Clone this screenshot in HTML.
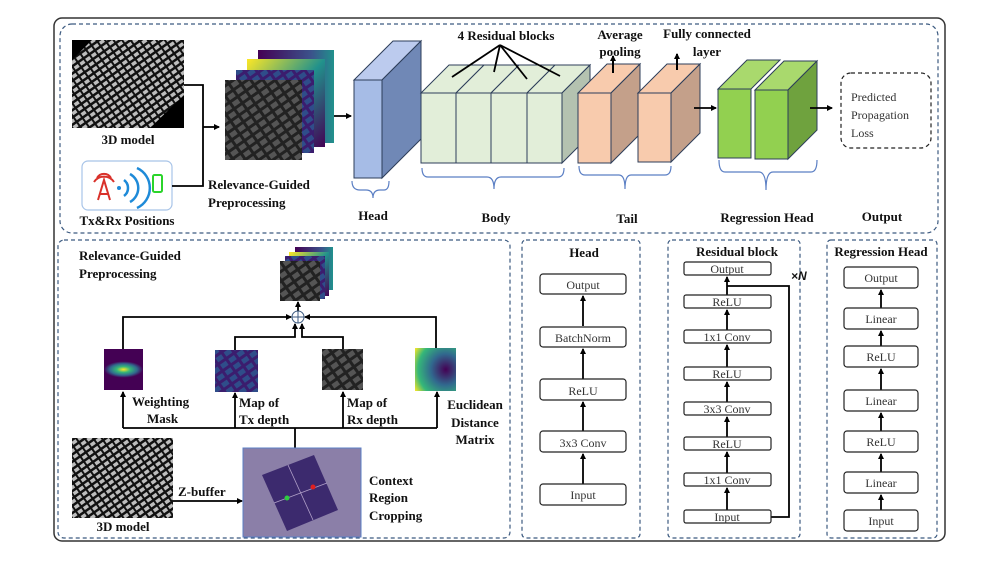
<!DOCTYPE html>
<html><head><meta charset="utf-8"><style>
html,body{margin:0;padding:0;background:#fff;}
svg{display:block;font-family:"Liberation Serif",serif;}
.b{font-weight:bold;font-size:13px;fill:#111;}
.n{font-size:12px;fill:#333;}
.bx{fill:#fff;stroke:#222;stroke-width:1.2;}
</style></head><body>
<svg width="996" height="561" viewBox="0 0 996 561" xmlns="http://www.w3.org/2000/svg">
<defs>
<marker id="ar" markerWidth="6" markerHeight="6" refX="5" refY="3" orient="auto" markerUnits="userSpaceOnUse"><path d="M0,0 L6,3 L0,6 z" fill="#000"/></marker>
<pattern id="city" width="7" height="6" patternUnits="userSpaceOnUse" patternTransform="rotate(-35)">
<rect width="7" height="6" fill="#111"/><rect x="1" y="1" width="5" height="3.5" fill="#bdbdbd"/></pattern>
<pattern id="cityg" width="10" height="8" patternUnits="userSpaceOnUse" patternTransform="rotate(-35)">
<rect width="10" height="8" fill="#222"/><rect x="1" y="1" width="7" height="5" fill="#555"/></pattern>
<pattern id="cityp" width="10" height="8" patternUnits="userSpaceOnUse" patternTransform="rotate(-35)">
<rect width="10" height="8" fill="#3b1d6e"/><rect x="1" y="1" width="7" height="5" fill="#2f4d8a"/></pattern>
<radialGradient id="wm" cx="0.5" cy="0.5" r="0.5" fx="0.5" fy="0.5" gradientTransform="translate(0,0.3) scale(1,0.4)">
<stop offset="0" stop-color="#fde725"/><stop offset="0.35" stop-color="#35b779"/><stop offset="0.7" stop-color="#31688e"/><stop offset="1" stop-color="#440154"/></radialGradient>
<radialGradient id="ed" cx="0.75" cy="0.5" r="0.9"><stop offset="0" stop-color="#440154"/><stop offset="0.4" stop-color="#31688e"/><stop offset="0.75" stop-color="#35b779"/><stop offset="1" stop-color="#fde725"/></radialGradient>
<linearGradient id="yg" x1="0" y1="0" x2="1" y2="1"><stop offset="0" stop-color="#fde725"/><stop offset="0.5" stop-color="#21918c"/><stop offset="1" stop-color="#440154"/></linearGradient>
<linearGradient id="pg" x1="0" y1="0" x2="1" y2="0"><stop offset="0" stop-color="#440154"/><stop offset="0.7" stop-color="#3b528b"/><stop offset="1" stop-color="#21918c"/></linearGradient>
</defs>

<rect x="54" y="18" width="891" height="523" rx="8" fill="none" stroke="#333" stroke-width="1.5"/>
<rect x="60" y="24" width="878" height="209" rx="12" fill="none" stroke="#3c5a80" stroke-width="1.2" stroke-dasharray="4,3"/>
<rect x="58" y="240" width="452" height="298" rx="6" fill="none" stroke="#3c5a80" stroke-width="1.2" stroke-dasharray="4,3"/>
<rect x="522" y="240" width="118" height="298" rx="4" fill="none" stroke="#3c5a80" stroke-width="1.2" stroke-dasharray="4,3"/>
<rect x="668" y="240" width="132" height="298" rx="4" fill="none" stroke="#3c5a80" stroke-width="1.2" stroke-dasharray="4,3"/>
<rect x="827" y="240" width="110" height="298" rx="4" fill="none" stroke="#3c5a80" stroke-width="1.2" stroke-dasharray="4,3"/>

<rect x="72" y="40" width="112" height="88" fill="url(#city)"/>
<path d="M150,128 L184,95 L184,128z M72,60 L92,40 L72,40z" fill="#000"/>
<text x="128" y="144" class="b" text-anchor="middle">3D model</text>
<rect x="82" y="161" width="90" height="49" rx="6" fill="#fff" stroke="#a8c4e8" stroke-width="1.2"/>
<g stroke="#d9312a" stroke-width="2" fill="none"><path d="M98,200 L104,180 L110,200 M100,194 L108,194"/><path d="M97,178 a8,8 0 0 1 14,0 M94,182 a12,12 0 0 1 20,0"/></g>
<circle cx="119" cy="188" r="2" fill="#1e8ad8"/>
<g stroke="#1e8ad8" stroke-width="2.5" fill="none"><path d="M124,180 a10,10 0 0 1 0,16"/><path d="M130,174 a16,16 0 0 1 0,28"/><path d="M137,168 a22,22 0 0 1 0,40"/></g>
<rect x="153" y="175" width="9" height="17" rx="1.5" fill="none" stroke="#2bd42b" stroke-width="2"/>
<text x="127" y="225" class="b" text-anchor="middle">Tx&amp;Rx Positions</text>
<path d="M184,85 H203 V186 H172" fill="none" stroke="#000" stroke-width="1.8"/>
<line x1="203" y1="127" x2="219" y2="127" stroke="#000" stroke-width="1.8" marker-end="url(#ar)"/>
<rect x="258" y="50" width="76" height="93" fill="url(#pg)"/>
<rect x="247" y="59" width="78" height="88" fill="url(#yg)"/>
<rect x="236" y="70" width="78" height="83" fill="url(#cityp)"/>
<rect x="225" y="80" width="77" height="80" fill="url(#cityg)"/>
<text x="208" y="189" class="b">Relevance-Guided</text>
<text x="208" y="207" class="b">Preprocessing</text>
<line x1="334" y1="116" x2="351" y2="116" stroke="#000" stroke-width="1.8" marker-end="url(#ar)"/>
<polygon points="354,80 382,80 421,41 393,41" fill="#bccbee" stroke="#2d3e5a"/>
<polygon points="382,80 421,41 421,139 382,178" fill="#7088b6" stroke="#2d3e5a"/>
<rect x="354" y="80" width="28" height="98" fill="#a6bce6" stroke="#2d3e5a"/>
<g stroke="#2d3e5a">
<polygon points="421,93 456,93 484,65 449,65" fill="#e2eed9"/>
<polygon points="456,93 491,93 519,65 484,65" fill="#e2eed9"/>
<polygon points="491,93 527,93 555,65 519,65" fill="#e2eed9"/>
<polygon points="527,93 562,93 590,65 555,65" fill="#e2eed9"/>
<polygon points="562,93 590,65 590,135 562,163" fill="#b4c2b0"/>
<rect x="421" y="93" width="35" height="70" fill="#e2eed9"/>
<rect x="456" y="93" width="35" height="70" fill="#e2eed9"/>
<rect x="491" y="93" width="36" height="70" fill="#e2eed9"/>
<rect x="527" y="93" width="35" height="70" fill="#e2eed9"/>
</g>
<g stroke="#000" stroke-width="1.8"><line x1="500" y1="45" x2="452" y2="77"/><line x1="500" y1="45" x2="494" y2="72"/><line x1="500" y1="45" x2="527" y2="79"/><line x1="500" y1="45" x2="560" y2="76"/></g>
<text x="506" y="40" class="b" text-anchor="middle">4 Residual blocks</text>
<g stroke="#2d3e5a">
<polygon points="578,93 611,93 640,64 607,64" fill="#f8cbad"/>
<polygon points="611,93 640,64 640,134 611,163" fill="#c4a08a"/>
<rect x="578" y="93" width="33" height="70" fill="#f8cbad"/>
<polygon points="638,93 671,93 700,64 667,64" fill="#f8cbad"/>
<polygon points="671,93 700,64 700,133 671,162" fill="#c4a08a"/>
<rect x="638" y="93" width="33" height="69" fill="#f8cbad"/>
</g>
<line x1="613" y1="73" x2="613" y2="56" stroke="#000" stroke-width="2" marker-end="url(#ar)"/>
<line x1="677" y1="70" x2="677" y2="54" stroke="#000" stroke-width="2" marker-end="url(#ar)"/>
<text x="620" y="39" class="b" text-anchor="middle">Average</text>
<text x="620" y="56" class="b" text-anchor="middle">pooling</text>
<text x="707" y="38" class="b" text-anchor="middle">Fully connected</text>
<text x="707" y="56" class="b" text-anchor="middle">layer</text>
<line x1="694" y1="108" x2="716" y2="108" stroke="#000" stroke-width="1.8" marker-end="url(#ar)"/>
<g stroke="#2d3e5a">
<polygon points="718,89 751,89 780,60 747,60" fill="#a9d96d"/>
<polygon points="755,90 788,90 817,61 784,61" fill="#a9d96d"/>
<polygon points="788,90 817,61 817,130 788,159" fill="#6fa23e"/>
<rect x="718" y="89" width="33" height="69" fill="#92d050"/>
<rect x="755" y="90" width="33" height="69" fill="#92d050"/>
</g>
<line x1="810" y1="108" x2="832" y2="108" stroke="#000" stroke-width="1.8" marker-end="url(#ar)"/>
<rect x="841" y="73" width="90" height="75" rx="10" fill="none" stroke="#222" stroke-width="1.2" stroke-dasharray="4,3"/>
<text x="851" y="101" class="n" font-size="13">Predicted</text>
<text x="851" y="119" class="n" font-size="13">Propagation</text>
<text x="851" y="137" class="n" font-size="13">Loss</text>
<g fill="none" stroke="#5b7fc4" stroke-width="1.2">
<path d="M352,181 q0,9 8,9 h6 q7,0 7,8 q0,-8 7,-8 h4 q5,0 5,-9"/>
<path d="M422,168 q0,9 6,9 h59 q7,0 7,12 q0,-12 7,-12 h57 q6,0 6,-9"/>
<path d="M579,166 q0,9 6,9 h34 q6,0 6,14 q0,-14 6,-14 h34 q6,0 6,-9"/>
<path d="M719,160 q0,12 6,12 h34 q7,0 7,18 q0,-18 7,-18 h38 q6,0 6,-12"/>
</g>
<text x="373" y="220" class="b" text-anchor="middle">Head</text>
<text x="496" y="222" class="b" text-anchor="middle">Body</text>
<text x="627" y="223" class="b" text-anchor="middle">Tail</text>
<text x="767" y="222" class="b" text-anchor="middle">Regression Head</text>
<text x="882" y="221" class="b" text-anchor="middle">Output</text>

<text x="79" y="260" class="b">Relevance-Guided</text>
<text x="79" y="278" class="b">Preprocessing</text>
<rect x="295" y="247" width="38" height="43" fill="url(#pg)"/>
<rect x="289" y="252" width="40" height="44" fill="url(#yg)"/>
<rect x="285" y="256" width="40" height="43" fill="url(#cityp)"/>
<rect x="280" y="261" width="40" height="40" fill="url(#cityg)"/>
<line x1="298" y1="311" x2="298" y2="302" stroke="#000" stroke-width="1.8" marker-end="url(#ar)"/>
<circle cx="298" cy="317" r="6" fill="#fff" stroke="#3c5a80"/>
<path d="M292,317 H304 M298,311 V323" stroke="#3c5a80"/>
<g fill="none" stroke="#000" stroke-width="1.8">
<path d="M123,349 V317 H291" marker-end="url(#ar)"/>
<path d="M436,348 V317 H305" marker-end="url(#ar)"/>
<path d="M235,350 V337 H295 V324" marker-end="url(#ar)"/>
<path d="M343,349 V337 H302 V324" marker-end="url(#ar)"/>
<path d="M123,428 H437"/>
<path d="M123,428 V392" marker-end="url(#ar)"/>
<path d="M235,428 V393" marker-end="url(#ar)"/>
<path d="M343,428 V392" marker-end="url(#ar)"/>
<path d="M437,428 V392" marker-end="url(#ar)"/>
<path d="M295,428 V448"/>
<path d="M173,501 H242" marker-end="url(#ar)"/>
</g>
<rect x="104" y="349" width="39" height="41" fill="url(#wm)"/>
<rect x="215" y="350" width="43" height="42" fill="url(#cityp)"/>
<rect x="322" y="349" width="41" height="41" fill="url(#cityg)"/>
<rect x="415" y="348" width="41" height="43" fill="url(#ed)"/>
<text x="132" y="406" class="b">Weighting</text>
<text x="147" y="423" class="b">Mask</text>
<text x="239" y="407" class="b">Map of</text>
<text x="239" y="424" class="b">Tx depth</text>
<text x="347" y="407" class="b">Map of</text>
<text x="347" y="424" class="b">Rx depth</text>
<text x="475" y="409" class="b" text-anchor="middle">Euclidean</text>
<text x="475" y="427" class="b" text-anchor="middle">Distance</text>
<text x="475" y="444" class="b" text-anchor="middle">Matrix</text>
<rect x="72" y="438" width="101" height="80" fill="url(#city)"/>
<text x="123" y="531" class="b" text-anchor="middle">3D model</text>
<text x="178" y="496" class="b">Z-buffer</text>
<rect x="243" y="448" width="118" height="89" fill="#8b7fa8" stroke="#5b7fc4"/>
<polygon points="262,475 314,455 338,510 287,531" fill="#3c2a6e"/>
<path d="M288,465 L313,520 M274,503 L327,483" stroke="#b0a0c8" stroke-width="0.8"/>
<circle cx="287" cy="498" r="2.5" fill="#2ecc40"/><circle cx="313" cy="487" r="2.5" fill="#e02020"/>
<text x="369" y="485" class="b">Context</text>
<text x="369" y="502" class="b">Region</text>
<text x="369" y="520" class="b">Cropping</text>

<text x="584" y="257" class="b" text-anchor="middle">Head</text>
<g fill="none" stroke="#000" stroke-width="1.8">
<line x1="583" y1="484" x2="583" y2="454" marker-end="url(#ar)"/>
<line x1="583" y1="431" x2="583" y2="402" marker-end="url(#ar)"/>
<line x1="583" y1="379" x2="583" y2="349" marker-end="url(#ar)"/>
<line x1="583" y1="326" x2="583" y2="296" marker-end="url(#ar)"/>
</g>
<g class="bx"><rect x="540" y="274" width="86" height="20" rx="3"/><rect x="540" y="327" width="86" height="20" rx="3"/><rect x="540" y="379" width="86" height="21" rx="3"/><rect x="540" y="431" width="86" height="21" rx="3"/><rect x="540" y="484" width="86" height="21" rx="3"/></g>
<g class="n" text-anchor="middle"><text x="583" y="289">Output</text><text x="583" y="342">BatchNorm</text><text x="583" y="395">ReLU</text><text x="583" y="447">3x3 Conv</text><text x="583" y="499">Input</text></g>

<text x="737" y="256" class="b" text-anchor="middle">Residual block</text>
<g fill="none" stroke="#000" stroke-width="1.8">
<line x1="727" y1="510" x2="727" y2="488" marker-end="url(#ar)"/>
<line x1="727" y1="473" x2="727" y2="452" marker-end="url(#ar)"/>
<line x1="727" y1="437" x2="727" y2="417" marker-end="url(#ar)"/>
<line x1="727" y1="402" x2="727" y2="382" marker-end="url(#ar)"/>
<line x1="727" y1="367" x2="727" y2="345" marker-end="url(#ar)"/>
<line x1="727" y1="330" x2="727" y2="310" marker-end="url(#ar)"/>
<line x1="727" y1="295" x2="727" y2="277" marker-end="url(#ar)"/>
<path d="M771,517 H789 V286 H727"/>
</g>
<g class="bx"><rect x="684" y="262" width="87" height="13" rx="2"/><rect x="684" y="295" width="87" height="13" rx="2"/><rect x="684" y="330" width="87" height="13" rx="2"/><rect x="684" y="367" width="87" height="13" rx="2"/><rect x="684" y="402" width="87" height="13" rx="2"/><rect x="684" y="437" width="87" height="13" rx="2"/><rect x="684" y="473" width="87" height="13" rx="2"/><rect x="684" y="510" width="87" height="13" rx="2"/></g>
<g class="n" text-anchor="middle"><text x="727" y="273">Output</text><text x="727" y="306">ReLU</text><text x="727" y="341">1x1 Conv</text><text x="727" y="378">ReLU</text><text x="727" y="413">3x3 Conv</text><text x="727" y="448">ReLU</text><text x="727" y="484">1x1 Conv</text><text x="727" y="521">Input</text></g>
<text x="791" y="280" font-family="Liberation Sans,sans-serif" font-size="12" font-weight="bold" font-style="italic" fill="#111">×N</text>

<text x="881" y="256" class="b" text-anchor="middle">Regression Head</text>
<g fill="none" stroke="#000" stroke-width="1.8">
<line x1="881" y1="510" x2="881" y2="495" marker-end="url(#ar)"/>
<line x1="881" y1="472" x2="881" y2="454" marker-end="url(#ar)"/>
<line x1="881" y1="431" x2="881" y2="413" marker-end="url(#ar)"/>
<line x1="881" y1="390" x2="881" y2="369" marker-end="url(#ar)"/>
<line x1="881" y1="346" x2="881" y2="331" marker-end="url(#ar)"/>
<line x1="881" y1="308" x2="881" y2="290" marker-end="url(#ar)"/>
</g>
<g class="bx"><rect x="844" y="267" width="74" height="21" rx="3"/><rect x="844" y="308" width="74" height="21" rx="3"/><rect x="844" y="346" width="74" height="21" rx="3"/><rect x="844" y="390" width="74" height="21" rx="3"/><rect x="844" y="431" width="74" height="21" rx="3"/><rect x="844" y="472" width="74" height="21" rx="3"/><rect x="844" y="510" width="74" height="21" rx="3"/></g>
<g class="n" text-anchor="middle"><text x="881" y="282">Output</text><text x="881" y="323">Linear</text><text x="881" y="361">ReLU</text><text x="881" y="405">Linear</text><text x="881" y="446">ReLU</text><text x="881" y="487">Linear</text><text x="881" y="525">Input</text></g>
</svg>
</body></html>
